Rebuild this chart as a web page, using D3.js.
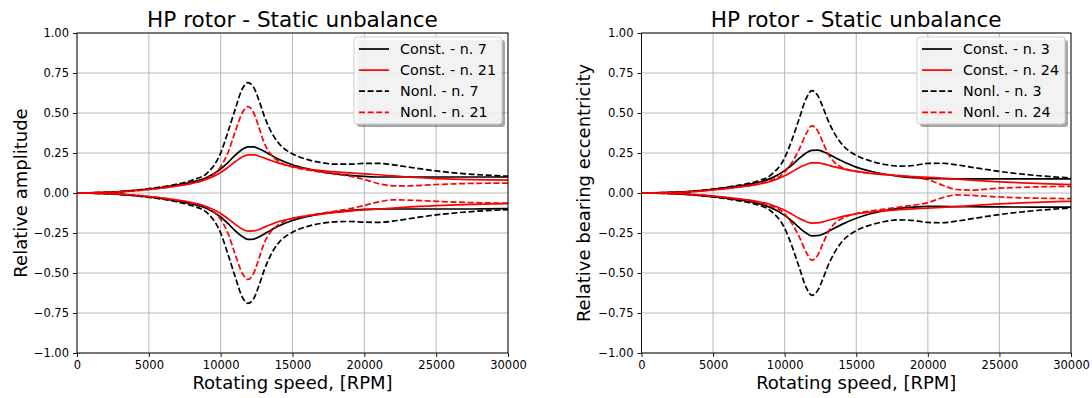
<!DOCTYPE html>
<html>
<head>
<meta charset="utf-8">
<script src="https://cdn.jsdelivr.net/npm/d3@7"></script>
<style>
  body { margin: 0; background: #fff; }
  text { font-family: "DejaVu Sans", sans-serif; fill: #000; }
</style>
</head>
<body>
<svg id="fig" width="1092" height="398"></svg>
<script>
// rotating speed grid shared by every series [RPM]
const speed = [0, 2500, 5000, 6500, 8000, 9000, 10000, 10500, 11000, 11500, 11900, 12300, 12700, 13000,
  13500, 14000, 15000, 16000, 17000, 18000, 19000, 20000, 21000, 22000, 23000, 25000, 27500, 30000];

const xTicks = [0, 5000, 10000, 15000, 20000, 25000, 30000];
const yTicks = [-1, -0.75, -0.5, -0.25, 0, 0.25, 0.5, 0.75, 1];

// left plot - relative amplitude
const constN7Up = [0, 0.006, 0.025, 0.043, 0.068, 0.095, 0.15, 0.19, 0.235, 0.272, 0.288, 0.288, 0.275, 0.262, 0.237, 0.213, 0.177, 0.152, 0.133, 0.12, 0.11, 0.104, 0.1, 0.1, 0.1, 0.1, 0.1, 0.1];
const constN7Lo = [0, -0.006, -0.025, -0.043, -0.068, -0.095, -0.15, -0.19, -0.235, -0.272, -0.29, -0.288, -0.273, -0.258, -0.232, -0.208, -0.172, -0.148, -0.13, -0.118, -0.108, -0.102, -0.1, -0.1, -0.1, -0.1, -0.1, -0.098];
const constN21Up = [0, 0.005, 0.022, 0.038, 0.06, 0.084, 0.128, 0.16, 0.195, 0.225, 0.238, 0.238, 0.23, 0.22, 0.203, 0.188, 0.165, 0.15, 0.14, 0.132, 0.126, 0.12, 0.114, 0.107, 0.1, 0.09, 0.083, 0.08];
const constN21Lo = [0, -0.005, -0.022, -0.038, -0.06, -0.084, -0.128, -0.16, -0.195, -0.225, -0.238, -0.237, -0.227, -0.215, -0.197, -0.18, -0.158, -0.143, -0.132, -0.122, -0.113, -0.106, -0.1, -0.094, -0.088, -0.079, -0.071, -0.067];
const nonlN7Up = [0, 0.006, 0.027, 0.047, 0.08, 0.12, 0.25, 0.38, 0.52, 0.65, 0.69, 0.66, 0.57, 0.49, 0.385, 0.315, 0.245, 0.21, 0.19, 0.18, 0.18, 0.185, 0.185, 0.176, 0.163, 0.138, 0.117, 0.105];
const nonlN7Lo = [0, -0.006, -0.027, -0.047, -0.08, -0.12, -0.25, -0.38, -0.52, -0.65, -0.69, -0.66, -0.57, -0.49, -0.385, -0.315, -0.245, -0.21, -0.19, -0.18, -0.178, -0.182, -0.184, -0.176, -0.162, -0.137, -0.116, -0.104];
const nonlN21Up = [0, 0.005, 0.022, 0.038, 0.062, 0.088, 0.165, 0.25, 0.38, 0.5, 0.54, 0.5, 0.4, 0.32, 0.24, 0.2, 0.163, 0.145, 0.13, 0.118, 0.105, 0.085, 0.058, 0.045, 0.045, 0.053, 0.06, 0.062];
const nonlN21Lo = [0, -0.005, -0.022, -0.038, -0.062, -0.088, -0.165, -0.25, -0.38, -0.5, -0.54, -0.5, -0.4, -0.32, -0.24, -0.2, -0.16, -0.142, -0.127, -0.113, -0.098, -0.078, -0.055, -0.043, -0.044, -0.052, -0.06, -0.063];

// right plot - relative bearing eccentricity
const constN3Up = [0, 0.005, 0.023, 0.04, 0.063, 0.09, 0.14, 0.175, 0.215, 0.25, 0.267, 0.268, 0.258, 0.246, 0.222, 0.2, 0.162, 0.136, 0.117, 0.104, 0.096, 0.091, 0.089, 0.088, 0.088, 0.088, 0.088, 0.088];
const constN3Lo = [0, -0.005, -0.023, -0.04, -0.063, -0.09, -0.14, -0.175, -0.215, -0.25, -0.268, -0.267, -0.256, -0.243, -0.218, -0.196, -0.158, -0.13, -0.11, -0.096, -0.088, -0.084, -0.084, -0.085, -0.086, -0.087, -0.088, -0.088];
const constN24Up = [0, 0.004, 0.02, 0.034, 0.052, 0.072, 0.108, 0.132, 0.158, 0.178, 0.188, 0.188, 0.182, 0.175, 0.163, 0.152, 0.135, 0.123, 0.115, 0.108, 0.103, 0.098, 0.093, 0.087, 0.081, 0.07, 0.06, 0.053];
const constN24Lo = [0, -0.004, -0.02, -0.034, -0.052, -0.072, -0.108, -0.132, -0.158, -0.178, -0.188, -0.187, -0.18, -0.172, -0.16, -0.148, -0.13, -0.119, -0.11, -0.104, -0.099, -0.095, -0.09, -0.085, -0.079, -0.068, -0.058, -0.052];
const nonlN3Up = [0, 0.005, 0.025, 0.044, 0.072, 0.11, 0.22, 0.33, 0.46, 0.59, 0.64, 0.61, 0.53, 0.46, 0.37, 0.305, 0.235, 0.2, 0.178, 0.168, 0.172, 0.185, 0.186, 0.176, 0.162, 0.135, 0.11, 0.094];
const nonlN3Lo = [0, -0.005, -0.025, -0.044, -0.072, -0.11, -0.22, -0.33, -0.46, -0.59, -0.64, -0.61, -0.53, -0.46, -0.37, -0.305, -0.235, -0.2, -0.178, -0.168, -0.172, -0.184, -0.186, -0.176, -0.162, -0.135, -0.11, -0.094];
const nonlN24Up = [0, 0.004, 0.02, 0.034, 0.055, 0.078, 0.13, 0.19, 0.27, 0.37, 0.42, 0.39, 0.31, 0.25, 0.19, 0.16, 0.135, 0.125, 0.117, 0.108, 0.098, 0.083, 0.05, 0.022, 0.018, 0.03, 0.038, 0.042];
const nonlN24Lo = [0, -0.004, -0.02, -0.034, -0.055, -0.078, -0.13, -0.19, -0.27, -0.37, -0.42, -0.39, -0.31, -0.25, -0.19, -0.16, -0.128, -0.112, -0.1, -0.088, -0.076, -0.06, -0.03, -0.012, -0.015, -0.025, -0.032, -0.035];

const title = "HP rotor - Static unbalance";
const xLabel = "Rotating speed, [RPM]";

const DASH = "6,2.6";

const panels = [
  {
    left: 77, right: 508, yLabel: "Relative amplitude", yLabelX: 27,
    series: [
      { name: "Const. - n. 7", color: "#000", dash: null, up: constN7Up, lo: constN7Lo },
      { name: "Const. - n. 21", color: "#ff0000", dash: null, up: constN21Up, lo: constN21Lo },
      { name: "Nonl. - n. 7", color: "#000", dash: DASH, up: nonlN7Up, lo: nonlN7Lo },
      { name: "Nonl. - n. 21", color: "#ff0000", dash: DASH, up: nonlN21Up, lo: nonlN21Lo }
    ]
  },
  {
    left: 641.5, right: 1071, yLabel: "Relative bearing eccentricity", yLabelX: 590,
    series: [
      { name: "Const. - n. 3", color: "#000", dash: null, up: constN3Up, lo: constN3Lo },
      { name: "Const. - n. 24", color: "#ff0000", dash: null, up: constN24Up, lo: constN24Lo },
      { name: "Nonl. - n. 3", color: "#000", dash: DASH, up: nonlN3Up, lo: nonlN3Lo },
      { name: "Nonl. - n. 24", color: "#ff0000", dash: DASH, up: nonlN24Up, lo: nonlN24Lo }
    ]
  }
];

const plotTop = 33, plotBottom = 353;
const svg = d3.select("#fig");

panels.forEach((p, pi) => {
  const x = d3.scaleLinear().domain([0, 30000]).range([p.left, p.right]);
  const y = d3.scaleLinear().domain([-1, 1]).range([plotBottom, plotTop]);
  const g = svg.append("g");

  // grid
  g.append("g").selectAll("line").data(xTicks).join("line")
    .attr("x1", d => x(d)).attr("x2", d => x(d))
    .attr("y1", plotTop).attr("y2", plotBottom)
    .attr("stroke", "#b0b0b0").attr("stroke-width", 0.9);
  g.append("g").selectAll("line").data(yTicks).join("line")
    .attr("x1", p.left).attr("x2", p.right)
    .attr("y1", d => y(d)).attr("y2", d => y(d))
    .attr("stroke", "#b0b0b0").attr("stroke-width", 0.9);

  // axes
  const xa = g.append("g").attr("transform", `translate(0,${plotBottom})`)
    .call(d3.axisBottom(x).tickValues(xTicks).tickFormat(d3.format("d")).tickSize(4).tickPadding(4));
  const ya = g.append("g").attr("transform", `translate(${p.left},0)`)
    .call(d3.axisLeft(y).tickValues(yTicks).tickFormat(d3.format(".2f")).tickSize(4).tickPadding(4));
  [xa, ya].forEach(a => {
    a.select(".domain").remove();
    a.selectAll("text").style("font-family", "DejaVu Sans").style("font-size", "11.5px").attr("fill", "#000");
    a.selectAll("line").attr("stroke", "#000").attr("stroke-width", 0.9);
  });

  // lines
  const clipId = "clip" + pi;
  svg.append("clipPath").attr("id", clipId).append("rect")
    .attr("x", p.left).attr("y", plotTop).attr("width", p.right - p.left).attr("height", plotBottom - plotTop);
  const line = d3.line().x((d, i) => x(speed[i])).y(d => y(d)).curve(d3.curveMonotoneX);
  const lg = g.append("g").attr("clip-path", `url(#${clipId})`);
  p.series.forEach(s => {
    [s.up, s.lo].forEach(arr => {
      lg.append("path").datum(arr).attr("d", line)
        .attr("fill", "none").attr("stroke", s.color).attr("stroke-width", 1.7)
        .attr("stroke-dasharray", s.dash);
    });
  });

  // frame
  g.append("rect").attr("x", p.left).attr("y", plotTop)
    .attr("width", p.right - p.left).attr("height", plotBottom - plotTop)
    .attr("fill", "none").attr("stroke", "#000").attr("stroke-width", 0.9);

  // title and labels
  g.append("text").attr("x", (p.left + p.right) / 2).attr("y", 27)
    .attr("text-anchor", "middle").style("font-size", "21.6px").text(title);
  g.append("text").attr("x", (p.left + p.right) / 2).attr("y", 389)
    .attr("text-anchor", "middle").style("font-size", "18px").text(xLabel);
  g.append("text").attr("transform", `translate(${p.yLabelX},${(plotTop + plotBottom) / 2}) rotate(-90)`)
    .attr("text-anchor", "middle").style("font-size", "18px").text(p.yLabel);

  // legend
  const lx = p.right - 154, ly = 37, lw = 148, lh = 87;
  const leg = g.append("g");
  leg.append("rect").attr("x", lx + 3).attr("y", ly + 3).attr("width", lw).attr("height", lh)
    .attr("rx", 3).attr("fill", "#4d4d4d").attr("opacity", 0.5);
  leg.append("rect").attr("x", lx).attr("y", ly).attr("width", lw).attr("height", lh)
    .attr("rx", 3).attr("fill", "#fff").attr("fill-opacity", 0.85).attr("stroke", "#cccccc").attr("stroke-width", 1);
  p.series.forEach((s, i) => {
    const cy = ly + 12 + i * 21.1;
    leg.append("line").attr("x1", lx + 5).attr("x2", lx + 35).attr("y1", cy).attr("y2", cy)
      .attr("stroke", s.color).attr("stroke-width", 1.7).attr("stroke-dasharray", s.dash);
    leg.append("text").attr("x", lx + 46).attr("y", cy + 5).style("font-size", "14.3px").text(s.name);
  });
});
</script>
</body>
</html>
